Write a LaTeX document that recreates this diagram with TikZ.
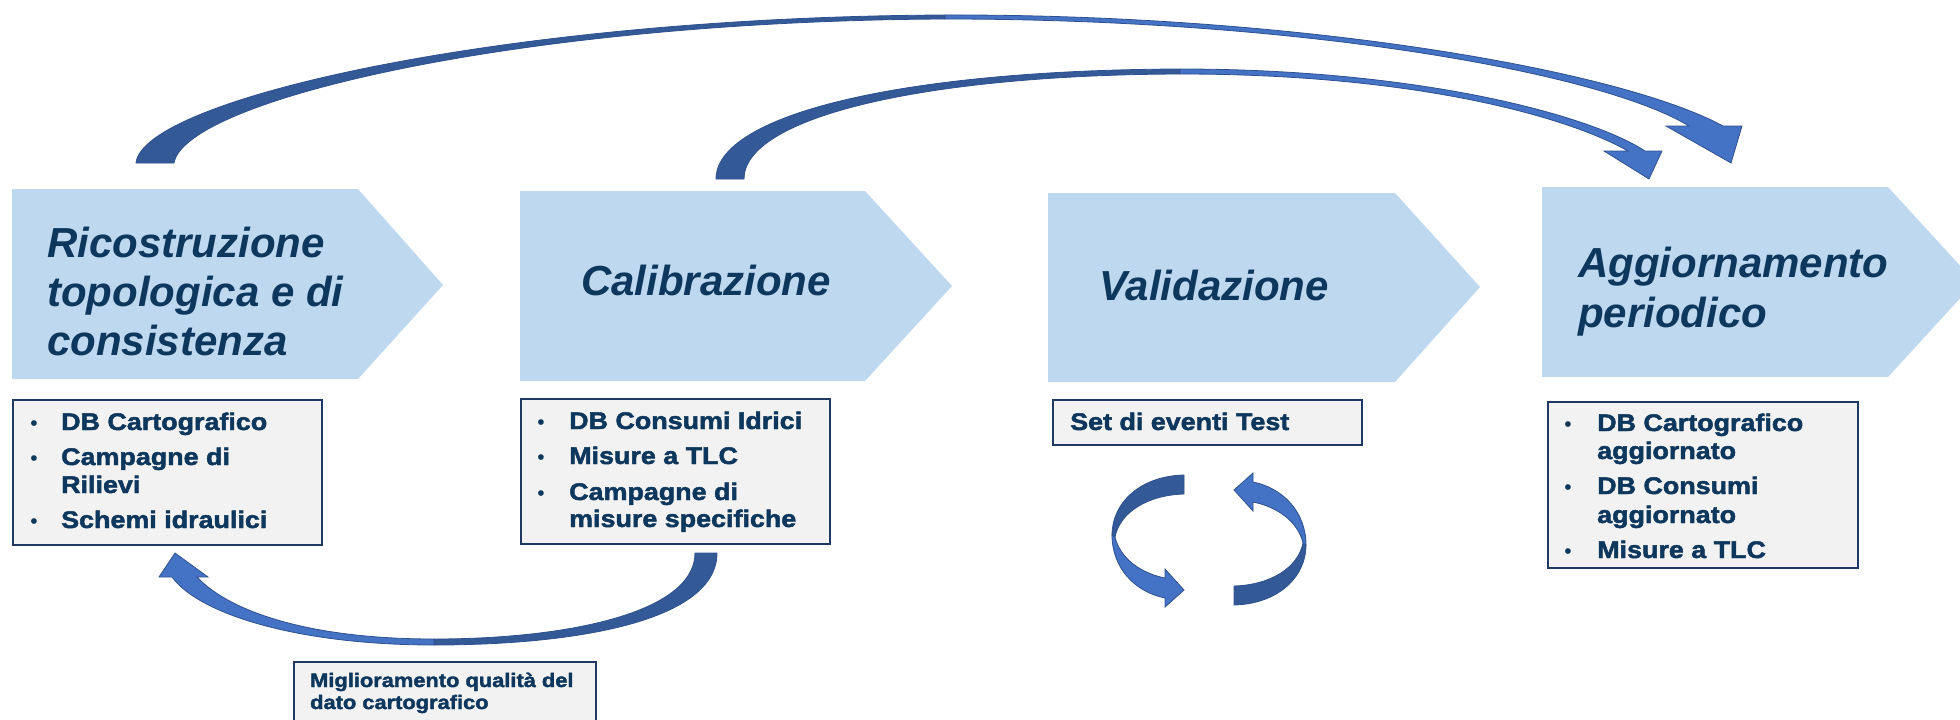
\documentclass[tikz,border=0pt]{standalone}
\usepackage{fontspec}
\setmainfont{Liberation Sans}
\newfontfamily\heavy{Liberation Sans Bold}[FakeStretch=1.12,FakeBold=2]
\definecolor{chevblue}{RGB}{190,216,240}
\definecolor{navy}{RGB}{13,55,92}
\definecolor{boxgray}{RGB}{242,242,242}
\definecolor{boxline}{RGB}{31,56,100}
\definecolor{arrdark}{RGB}{51,89,150}
\definecolor{arrlight}{RGB}{68,114,196}
\definecolor{arrline}{RGB}{47,82,143}
\newcommand\rotarc{%
  \path[darkpart] (1184,475) .. controls (1140,476) and (1112,503) .. (1112,535)
    -- (1115,537) .. controls (1120,512) and (1148,495) .. (1184,494) -- cycle;
  \path[lightpart] (1112,535) .. controls (1112,568) and (1135,592) .. (1165,598)
    -- (1165,607) -- (1184,590) -- (1165,569) -- (1165,578)
    .. controls (1140,573) and (1120,558) .. (1115,537) -- cycle;
}
\begin{document}
\begin{tikzpicture}[x=1pt,y=-1pt,
  chev/.style={fill=chevblue, draw=none},
  chevtext/.style={font=\fontsize{42}{49}\selectfont\bfseries\itshape, text=navy, inner sep=0pt, anchor=base west},
  infobox/.style={fill=boxgray, draw=boxline, line width=1.6pt, inner sep=0pt, anchor=north west},
  itemtext/.style={font=\heavy\fontsize{24}{28}\selectfont, text=navy, inner sep=0pt, anchor=base west},
  smalltext/.style={font=\heavy\fontsize{19.5}{22}\selectfont, text=navy, inner sep=0pt, anchor=base west},
  bul/.style={font=\fontsize{21}{21}\selectfont, text=navy, inner sep=0pt, anchor=base},
  darkpart/.style={fill=arrdark, draw=arrline, line width=0.8pt},
  lightpart/.style={fill=arrlight, draw=arrline, line width=0.8pt}]

\useasboundingbox (0,0) rectangle (1960,720);

% chevrons
\path[chev] (12,189) -- (358,189) -- (443,285) -- (358,379) -- (12,379) -- cycle;
\path[chev] (520,191) -- (865,191) -- (952,286) -- (865,381) -- (520,381) -- cycle;
\path[chev] (1048,193) -- (1395,193) -- (1480,287) -- (1395,382) -- (1048,382) -- cycle;
\path[chev] (1542,187) -- (1888,187) -- (1975,282) -- (1888,377) -- (1542,377) -- cycle;

\node[chevtext] (c1a) at (47,257) {Ricostruzione};
\node[chevtext] (c1b) at (47,306) {topologica e di};
\node[chevtext] (c1c) at (47,355) {consistenza};
\node[chevtext] (c2) at (581,295) {Calibrazione};
\node[chevtext] (c3) at (1099,300) {Validazione};
\node[chevtext] (c4a) at (1578,277) {Aggiornamento};
\node[chevtext] (c4b) at (1578,327) {periodico};

% boxes
\node[infobox, minimum width=309pt, minimum height=145pt] (box1) at (12,399) {};
\node[infobox, minimum width=309pt, minimum height=145pt] (box2) at (520,398) {};
\node[infobox, minimum width=309pt, minimum height=45pt] (box3) at (1052,399) {};
\node[infobox, minimum width=310pt, minimum height=166pt] (box4) at (1547,401) {};
\node[infobox, minimum width=302pt, minimum height=66pt] (box5) at (293,661) {};

% box 1 items
\node[bul] (b1a) at (34,430) {\textbullet};
\node[itemtext] (i1a) at (61,430) {DB Cartografico};
\node[bul] (b1b) at (34,465) {\textbullet};
\node[itemtext] (i1b) at (61,465) {Campagne di};
\node[itemtext] (i1c) at (61,493) {Rilievi};
\node[bul] (b1d) at (34,528) {\textbullet};
\node[itemtext] (i1d) at (61,528) {Schemi idraulici};

% box 2 items
\node[bul] (b2a) at (541,429) {\textbullet};
\node[itemtext] (i2a) at (569,429) {DB Consumi Idrici};
\node[bul] (b2b) at (541,464) {\textbullet};
\node[itemtext] (i2b) at (569,464) {Misure a TLC};
\node[bul] (b2c) at (541,500) {\textbullet};
\node[itemtext] (i2c) at (569,500) {Campagne di};
\node[itemtext] (i2d) at (569,527) {misure specifiche};

% box 3
\node[itemtext] (i3) at (1070,430) {Set di eventi Test};

% box 4 items
\node[bul] (b4a) at (1568,431) {\textbullet};
\node[itemtext] (i4a) at (1597,431) {DB Cartografico};
\node[itemtext] (i4b) at (1597,459) {aggiornato};
\node[bul] (b4c) at (1568,494) {\textbullet};
\node[itemtext] (i4c) at (1597,494) {DB Consumi};
\node[itemtext] (i4d) at (1597,523) {aggiornato};
\node[bul] (b4e) at (1568,558) {\textbullet};
\node[itemtext] (i4e) at (1597,558) {Misure a TLC};

% box 5
\node[smalltext] (i5a) at (310,687) {Miglioramento qualità del};
\node[smalltext] (i5b) at (310,709) {dato cartografico};

% arrow A (big top)
\path[darkpart] (136,163) .. controls (142,100) and (500,17) .. (945,15)
  -- (945,19) .. controls (520,21) and (185,100) .. (174,163) -- cycle;
\path[lightpart] (945,15) .. controls (1300,14) and (1620,70) .. (1723,126)
  -- (1742,126) -- (1731,163) -- (1666,126) -- (1689,126)
  .. controls (1600,72) and (1300,19) .. (945,19) -- cycle;

% arrow B (second top)
\path[darkpart] (716,179) .. controls (716,115) and (900,70) .. (1180,69)
  -- (1180,74) .. controls (920,75) and (744,118) .. (744,179) -- cycle;
\path[lightpart] (1180,69) .. controls (1420,69) and (1590,115) .. (1645,151)
  -- (1662,151) -- (1649,179) -- (1604,151) -- (1628,151)
  .. controls (1570,118) and (1420,74) .. (1180,74) -- cycle;

% arrow C (bottom)
\path[darkpart] (717,553) .. controls (717,620) and (580,645) .. (434,645)
  -- (434,639) .. controls (570,639) and (695,612) .. (695,553) -- cycle;
\path[lightpart] (434,645) .. controls (300,645) and (200,615) .. (172,577)
  -- (159,577) -- (175,553) -- (208,577) -- (197,577)
  .. controls (230,612) and (310,639) .. (434,639) -- cycle;

% circular arrows
\rotarc
\begin{scope}[rotate around={180:(1209,540)}]
\rotarc
\end{scope}
\end{tikzpicture}
\end{document}
